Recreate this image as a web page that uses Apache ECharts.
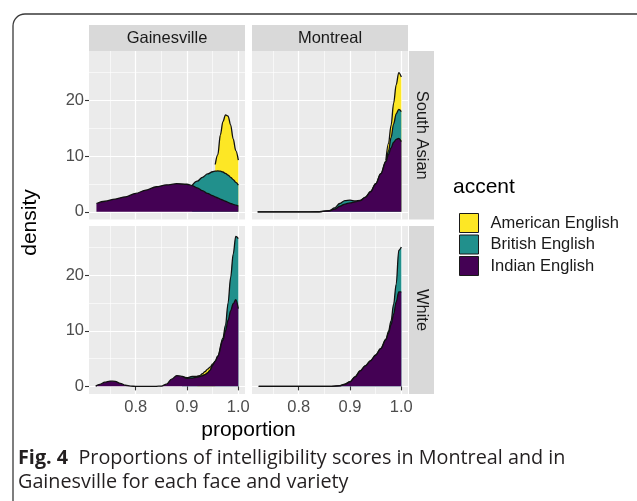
<!DOCTYPE html>
<html><head><meta charset="utf-8">
<script src="https://cdn.jsdelivr.net/npm/echarts@6/dist/echarts.min.js"></script>
<style>html,body{margin:0;padding:0;background:#fff}#c{width:637px;height:501px}</style>
</head><body><div id="c"></div>
<script>
// ---- categories / labels ----
const accents = ['American English', 'British English', 'Indian English'];
const cities = ['Gainesville', 'Montreal'];
const faces = ['South Asian', 'White'];
const xTicks = [0.8, 0.9, 1.0];
const xMinor = [0.75, 0.85, 0.95];
const yTicks = [0, 10, 20];
const yMinor = [5, 15, 25];

// ---- Gainesville / South Asian (individual densities, stacked in plot) ----
const gsX        = [0.7235,0.74,0.76,0.78,0.80,0.82,0.84,0.86,0.88,0.90,0.91,0.92,0.93,0.94,0.95,0.955,0.96,0.965,0.97,0.975,0.98,0.985,0.99,0.995,1.0];
const gsIndian   = [1.5,1.9,2.3,2.7,3.3,3.9,4.5,4.85,5.05,4.95,4.7,4.3,3.8,3.3,2.9,2.7,2.5,2.3,2.1,1.9,1.7,1.5,1.35,1.2,1.05];
const gsBritish  = ['-','-','-','-','-','-','-','-','-','-',0.05,1.2,2.4,3.5,4.3,4.6,4.85,5.0,5.05,5.0,4.9,4.7,4.45,4.1,3.75];
const gsAmerican = ['-','-','-','-','-','-','-','-','-','-','-','-','-','-','-',1.2,2.9,6.5,9.05,10.5,10.6,9.4,7.3,5.7,4.5];

// ---- Montreal / South Asian ----
const msX        = [0.72,0.80,0.84,0.86,0.87,0.88,0.89,0.90,0.91,0.92,0.93,0.94,0.95,0.96,0.97,0.975,0.98,0.985,0.99,0.995,1.0];
const msIndian   = [0,0,0.02,0.2,0.5,1.0,1.4,1.6,1.8,2.0,2.6,3.6,5.0,6.8,9.0,10.3,11.5,12.5,13.0,13.2,12.6];
const msBritish  = [0,0,0,0.02,0.2,0.5,0.6,0.5,0.15,0.05,0.05,0.05,0.05,0.05,0.15,0.6,1.8,3.3,4.6,5.2,5.4];
const msAmerican = ['-','-','-','-','-','-','-','-','-','-','-','-','-','-',0.15,1.4,2.2,3.7,5.2,6.6,6.2];

// ---- Gainesville / White ----
const gwX        = [0.722,0.73,0.74,0.75,0.76,0.77,0.78,0.79,0.80,0.84,0.85,0.86,0.87,0.88,0.89,0.90,0.91,0.92,0.925,0.93,0.935,0.94,0.945,0.95,0.955,0.96,0.97,0.975,0.98,0.985,0.99,0.995,1.0];
const gwIndian   = [0.05,0.35,0.75,0.95,0.9,0.55,0.2,0.04,0,0,0.05,0.4,1.3,1.95,1.8,1.45,1.5,1.65,1.75,1.9,2.1,2.4,2.9,3.8,4.5,5.4,8.3,10.0,11.9,13.6,14.9,15.6,14.0];
const gwBritish  = ['-','-','-','-','-','-','-','-','-','-','-','-','-','-',0.0,0.1,0.3,0.15,0.05,0.02,0.02,0.02,0.02,0.03,0.05,0.1,0.4,1.0,3.1,6.0,8.9,11.4,12.6];
const gwAmerican = ['-','-','-','-','-','-','-','-','-','-','-','-','-','-','-','-','-',0,0.15,0.35,0.55,0.7,0.55,0.2,0,'-','-','-','-','-','-','-','-'];

// ---- Montreal / White ----
const mwX        = [0.722,0.80,0.86,0.88,0.89,0.90,0.91,0.92,0.93,0.94,0.95,0.96,0.97,0.975,0.98,0.985,0.99,0.995,1.0];
const mwIndian   = [0,0,0,0.1,0.35,0.8,1.7,2.8,3.7,4.6,5.6,6.8,8.4,9.6,11.1,13.0,15.2,17.0,17.0];
const mwBritish  = [0,0,0,0.02,0.05,0.05,0.05,0.05,0.05,0.05,0.05,0.05,0.1,0.3,0.7,1.8,3.2,7.5,8.1];

const fills = {'American English': '#FDE725', 'British English': '#21908C', 'Indian English': '#440154'};

const panels = [
  {city: 0, face: 0, x: gsX, s: {'Indian English': gsIndian, 'British English': gsBritish, 'American English': gsAmerican}},
  {city: 1, face: 0, x: msX, s: {'Indian English': msIndian, 'British English': msBritish, 'American English': msAmerican}},
  {city: 0, face: 1, x: gwX, s: {'Indian English': gwIndian, 'British English': gwBritish, 'American English': gwAmerican}},
  {city: 1, face: 1, x: mwX, s: {'Indian English': mwIndian, 'British English': mwBritish}}
];

const XMIN = 0.709, XMAX = 1.013, YMIN = -1.375, YMAX = 28.875;
const colLeft = [89, 252], rowTop = [51, 226], PW = 156, PH = [168.5, 168];
const FONT = 'Liberation Sans';
const isNum = v => typeof v === 'number';

const grid = [], xAxis = [], yAxis = [], series = [];
panels.forEach((p, i) => {
  const bottom = p.face === 1, left = p.city === 0;
  grid.push({left: colLeft[p.city], top: rowTop[p.face], width: PW, height: PH[p.face],
    show: true, backgroundColor: '#EBEBEB', borderWidth: 0, containLabel: false});
  xAxis.push({gridIndex: i, type: 'value', min: XMIN, max: XMAX, position: 'top',
    axisLine: {show: false}, axisTick: {show: false, customValues: xMinor},
    axisLabel: {show: false, customValues: xMinor},
    splitLine: {show: true, lineStyle: {color: '#ffffff', width: 0.6}}});
  xAxis.push({gridIndex: i, type: 'value', min: XMIN, max: XMAX, position: 'bottom',
    axisLine: {show: false},
    axisTick: {show: bottom, customValues: xTicks, length: 4, lineStyle: {color: '#333333', width: 1.1}},
    axisLabel: {show: bottom, customValues: xTicks, formatter: v => v.toFixed(1), color: '#4D4D4D',
      fontSize: 16.5, fontFamily: FONT, margin: 5},
    splitLine: {show: true, lineStyle: {color: '#ffffff', width: 1.2}}});
  yAxis.push({gridIndex: i, type: 'value', min: YMIN, max: YMAX, position: 'right',
    axisLine: {show: false}, axisTick: {show: false, customValues: yMinor},
    axisLabel: {show: false, customValues: yMinor},
    splitLine: {show: true, lineStyle: {color: '#ffffff', width: 0.6}}});
  yAxis.push({gridIndex: i, type: 'value', min: YMIN, max: YMAX, position: 'left',
    axisLine: {show: false},
    axisTick: {show: left, customValues: yTicks, length: 4, lineStyle: {color: '#333333', width: 1.1}},
    axisLabel: {show: left, customValues: yTicks, color: '#4D4D4D', fontSize: 16.5, fontFamily: FONT, margin: 5},
    splitLine: {show: true, lineStyle: {color: '#ffffff', width: 1.2}}});

  // cumulative (stacked) tops: Indian at bottom, then British, then American
  const order = ['Indian English', 'British English', 'American English'];
  let base = p.x.map(() => 0);
  const tops = [];
  order.forEach(a => {
    const ys = p.s[a];
    if (!ys) return;
    const top = ys.map((v, k) => isNum(v) && isNum(base[k]) ? +(base[k] + v).toFixed(3) : '-');
    tops.push({a, top});
    base = top.map((v, k) => isNum(v) ? v : base[k]);
  });
  // draw top-most layer first so lower layers cover its lower part
  tops.slice().reverse().forEach((t, j) => {
    series.push({
      type: 'line', name: t.a, xAxisIndex: 2 * i + 1, yAxisIndex: 2 * i + 1,
      data: p.x.map((x, k) => [x, t.top[k]]),
      symbol: 'none', showSymbol: false, smooth: 0.35, smoothMonotone: 'x', connectNulls: false,
      lineStyle: {color: '#111111', width: 1.3},
      itemStyle: {color: fills[t.a]},
      areaStyle: {color: fills[t.a], opacity: 1, origin: 0},
      z: 2 + j, emphasis: {disabled: true}, silent: true
    });
  });
});

const graphic = [];
graphic.push({type: 'rect', shape: {x: 13, y: 14, width: 700, height: 600, r: 12},
  style: {fill: 'none', stroke: '#3a3a3a', lineWidth: 1.3}, silent: true, z: 100});
cities.forEach((c, j) => {
  graphic.push({type: 'rect', shape: {x: colLeft[j], y: 25, width: PW, height: 26}, style: {fill: '#D9D9D9'}});
  graphic.push({type: 'text', x: colLeft[j] + PW / 2, y: 38.5,
    style: {text: c, fill: '#1A1A1A', font: '16.5px "' + FONT + '"', textAlign: 'center', textVerticalAlign: 'middle'}});
});
faces.forEach((f, r) => {
  graphic.push({type: 'rect', shape: {x: 409, y: rowTop[r], width: 25, height: PH[r]}, style: {fill: '#D9D9D9'}});
  graphic.push({type: 'text', x: 421.5, y: rowTop[r] + PH[r] / 2, rotation: -Math.PI / 2,
    style: {text: f, fill: '#1A1A1A', font: '16.5px "' + FONT + '"', textAlign: 'center', textVerticalAlign: 'middle'}});
});
graphic.push({type: 'text', x: 30, y: 222.5, rotation: Math.PI / 2,
  style: {text: 'density', fill: '#000', font: '21px "' + FONT + '"', textAlign: 'center', textVerticalAlign: 'middle'}});
graphic.push({type: 'text', x: 248.5, y: 430,
  style: {text: 'proportion', fill: '#000', font: '21px "' + FONT + '"', textAlign: 'center', textVerticalAlign: 'middle'}});
graphic.push({type: 'text', x: 453, y: 187,
  style: {text: 'accent', fill: '#000', font: '21px "' + FONT + '"', textAlign: 'left', textVerticalAlign: 'middle'}});
graphic.push({type: 'text', x: 18, y: 458,
  style: {text: '{b|Fig. 4}  Proportions of intelligibility scores in Montreal and in',
    rich: {b: {font: 'bold 19.8px "Open Sans"', fill: '#231F20'}},
    font: '19.8px "Open Sans"', fill: '#231F20', textAlign: 'left', textVerticalAlign: 'middle'}});
graphic.push({type: 'text', x: 18, y: 482,
  style: {text: 'Gainesville for each face and variety', font: '19.8px "Open Sans"', fill: '#231F20',
    textAlign: 'left', textVerticalAlign: 'middle'}});

const option = {
  animation: false,
  backgroundColor: '#ffffff',
  grid, xAxis, yAxis, series, graphic,
  legend: {
    orient: 'vertical', left: 454, top: 208, itemWidth: 19, itemHeight: 19, itemGap: 1.5,
    icon: 'rect', selectedMode: false,
    data: accents.map(a => ({name: a, itemStyle: {color: fills[a], borderColor: '#1a1a1a', borderWidth: 1}})),
    textStyle: {fontSize: 16.5, fontFamily: FONT, color: '#1A1A1A', padding: [0, 0, 0, 7]}
  }
};
const chart = echarts.init(document.getElementById('c'), null, {renderer: 'canvas'});
chart.setOption(option);
</script>
</body></html>
